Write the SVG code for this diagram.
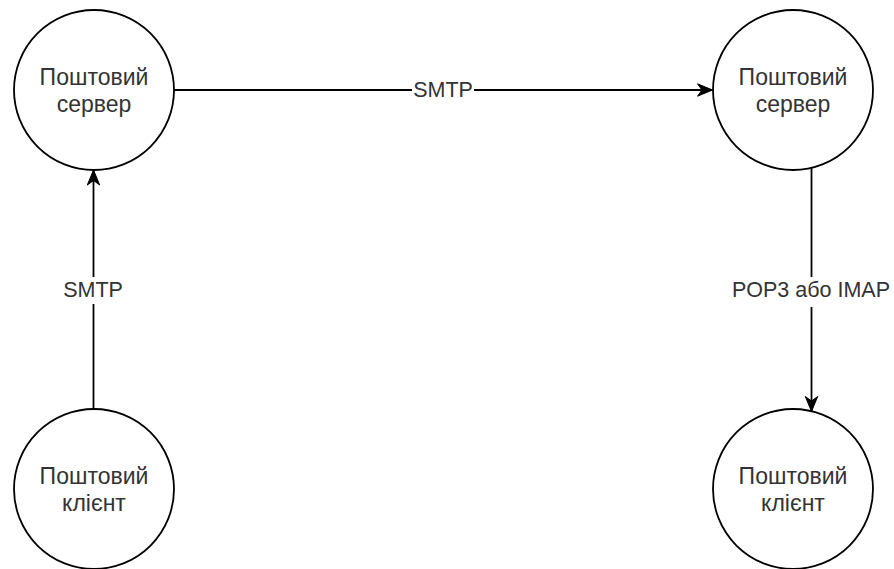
<svg xmlns="http://www.w3.org/2000/svg" width="894" height="569" viewBox="0 0 894 569">
  <defs>
    <marker id="arrow" markerUnits="userSpaceOnUse" markerWidth="18" markerHeight="16" refX="16" refY="8" orient="auto">
      <path d="M16,8 L1,1.8 L5.5,8 L1,14.2 Z" fill="#000" stroke="#000" stroke-width="1" stroke-linejoin="miter"/>
    </marker>
  </defs>
  <style>
    .node circle { fill: #fff; stroke: #000; stroke-width: 1.8; }
    .node text { font-family: "Liberation Sans", Arial, sans-serif; font-size: 23px; fill: #333; text-anchor: middle; }
    .edge { fill: none; stroke: #000; stroke-width: 1.8; marker-end: url(#arrow); }
    .label-bg { fill: #fff; }
    .label { font-family: "Liberation Sans", Arial, sans-serif; font-size: 21.5px; fill: #333; text-anchor: middle; dominant-baseline: central; }
  </style>

  <!-- connectors -->
  <g id="connectors">
    <path class="edge" d="M93.5,409.5 L93.5,170"/>
    <path class="edge" d="M174,90 L712.5,90"/>
    <path class="edge" d="M811.5,168 L811.5,411.5"/>
    <rect class="label-bg" x="70" y="277" width="48" height="27"/>
    <text class="label" x="93" y="290">SMTP</text>
    <rect class="label-bg" x="412" y="80" width="62" height="22"/>
    <text class="label" x="443" y="90">SMTP</text>
    <rect class="label-bg" x="728" y="277" width="166" height="30"/>
    <text class="label" x="811" y="290">POP3 або IMAP</text>
  </g>

  <!-- mail server, sender side -->
  <g id="server-left" class="node">
    <circle cx="94" cy="90" r="80"/>
    <text x="94" y="85">Поштовий</text>
    <text x="94" y="112">сервер</text>
  </g>

  <!-- mail server, receiver side -->
  <g id="server-right" class="node">
    <circle cx="793" cy="90" r="80"/>
    <text x="793" y="85">Поштовий</text>
    <text x="793" y="112">сервер</text>
  </g>

  <!-- mail client, sender -->
  <g id="client-left" class="node">
    <circle cx="94" cy="489" r="80"/>
    <text x="94" y="484">Поштовий</text>
    <text x="94" y="511">клієнт</text>
  </g>

  <!-- mail client, receiver -->
  <g id="client-right" class="node">
    <circle cx="793" cy="489" r="80"/>
    <text x="793" y="484">Поштовий</text>
    <text x="793" y="511">клієнт</text>
  </g>
</svg>
